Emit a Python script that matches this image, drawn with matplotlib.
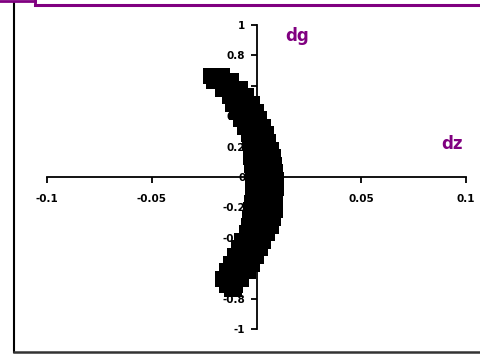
import matplotlib
matplotlib.use("Agg")
import matplotlib.pyplot as plt
from matplotlib.lines import Line2D

# band of points: dg levels and dz positions across the band
dg = [0.665, 0.63, 0.58, 0.53, 0.48, 0.43, 0.38, 0.33, 0.28, 0.23, 0.18, 0.13,
      0.08, 0.03, -0.02, -0.07, -0.12, -0.17, -0.22, -0.27, -0.32, -0.37,
      -0.42, -0.47, -0.52, -0.57, -0.62, -0.67, -0.71, -0.735]
dz_left = [-0.0217, -0.0205, -0.0162, -0.0127, -0.0112, -0.0092, -0.0072, -0.0057,
           -0.0037, -0.003, -0.0026, -0.0024, -0.002, -0.0017, -0.0017,
           -0.0017, -0.0017, -0.0022, -0.0026, -0.0032, -0.0037, -0.0047,
           -0.0067, -0.0082, -0.0102, -0.0122, -0.014, -0.016, -0.0142, -0.0117]
dz_mid = [-0.019, -0.0164, -0.012, -0.0088, -0.0068, -0.0048, -0.003, -0.0014,
          0.0005, 0.0014, 0.002, 0.0027, 0.0032, 0.0037, 0.0038, 0.0038,
          0.0037, 0.0034, 0.003, 0.0023, 0.0015, 0.0003, -0.0018, -0.0033,
          -0.0053, -0.0073, -0.009, -0.0117, -0.0118, -0.0113]
dz_right = [-0.0163, -0.0123, -0.0078, -0.0048, -0.0023, -0.0003, 0.0012, 0.003,
            0.0047, 0.0057, 0.0067, 0.0077, 0.0084, 0.009, 0.0092, 0.0092,
            0.009, 0.0089, 0.0087, 0.0077, 0.0067, 0.0052, 0.0032, 0.0017,
            -0.0003, -0.0023, -0.0041, -0.0073, -0.0103, -0.0108]

x_ticks = [-0.1, -0.05, 0.05, 0.1]
x_labels = ["-0.1", "-0.05", "0.05", "0.1"]
y_ticks = [1, 0.8, 0.6, 0.4, 0.2, 0, -0.2, -0.4, -0.6, -0.8, -1]
y_labels = ["1", "0.8", "0.6", "0.4", "0.2", "0", "-0.2", "-0.4", "-0.6", "-0.8", "-1"]

W, H = 480, 355
fig = plt.figure(figsize=(W / 100, H / 100), dpi=100)
ax = fig.add_axes([47 / W, 1 - 329 / H, 419 / W, 304 / H])

for xs in (dz_left, dz_mid, dz_right):
    ax.scatter(xs, dg, marker="s", s=133, color="black", linewidths=0, zorder=3)

ax.set_xlim(-0.1, 0.1)
ax.set_ylim(-1, 1)
ax.spines["left"].set_position(("data", 0))
ax.spines["bottom"].set_position(("data", 0))
ax.spines["top"].set_visible(False)
ax.spines["right"].set_visible(False)
for s in ("left", "bottom"):
    ax.spines[s].set_linewidth(1.3)

ax.set_xticks(x_ticks)
ax.set_xticklabels(x_labels)
ax.set_yticks(y_ticks)
ax.set_yticklabels(y_labels)
ax.tick_params(axis="both", direction="out", length=4, width=1.3, labelsize=7.5)
ax.tick_params(axis="x", pad=8)
ax.tick_params(axis="y", pad=4)
for lab in ax.get_xticklabels() + ax.get_yticklabels():
    lab.set_fontweight("bold")
ax.patch.set_visible(False)

ax.text(0.0195, 0.93, "dg", color="#800080", fontsize=12, fontweight="bold",
        ha="center", va="center")
ax.text(0.0935, 0.22, "dz", color="#800080", fontsize=12, fontweight="bold",
        ha="center", va="center")

# frame lines around the chart (figure pixel coords)
def px_line(xs, ys, color, lw):
    fig.add_artist(Line2D([x / W for x in xs], [1 - y / H for y in ys],
                          transform=fig.transFigure, color=color, linewidth=lw))

px_line([13.5, 13.5], [3, 352], "black", 1.5)
px_line([13.5, 480], [352, 352], "#333333", 1.8)
px_line([0, 34.5], [1, 1], "#800080", 2)
px_line([34.5, 34.5], [0, 5], "#800080", 2)
px_line([34.5, 480], [5, 5], "#800080", 2.2)

fig.savefig("out.png", dpi=100)
